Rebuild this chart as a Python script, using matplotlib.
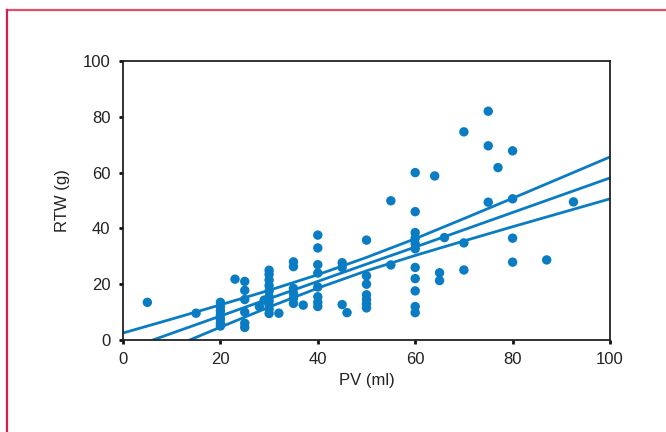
import numpy as np
import matplotlib
matplotlib.use("Agg")
import matplotlib.pyplot as plt
from matplotlib.lines import Line2D

plt.rcParams['font.family'] = ['Liberation Sans', 'DejaVu Sans']

# scatter data
pv = ([5, 15] + [20] * 7 + [23] + [25] * 6 + [28, 29] + [30] * 10 + [32]
      + [35] * 6 + [37] + [40] * 8 + [45, 45, 45, 46] + [50] * 7 + [55, 55]
      + [60] * 11 + [64, 65, 65, 66, 70, 70, 70, 75, 75, 75, 77]
      + [80] * 4 + [87, 92.5])
rtw = ([13.5, 9.6]
       + [13.5, 12, 10.5, 9, 7.5, 6, 5]
       + [21.8]
       + [21, 17.8, 14.5, 10, 6, 4.5]
       + [12, 14.3]
       + [25, 23.5, 21.5, 19.5, 17.5, 15.5, 14, 12.5, 11, 9.5]
       + [9.6]
       + [28, 26.3, 18.5, 16.7, 14.9, 13.1]
       + [12.5]
       + [37.6, 33, 27, 24, 19, 15.5, 13.5, 12]
       + [27.7, 26, 12.7, 9.8]
       + [35.8, 23, 20, 16.2, 14.5, 13, 11.5]
       + [49.9, 26.9]
       + [60, 46, 38.5, 36.5, 34.5, 32.7, 26, 22, 17.6, 12, 9.8]
       + [58.8, 24.1, 21.3, 36.7, 74.6, 34.8, 25.1, 82, 69.6, 49.4, 61.8]
       + [67.8, 50.6, 36.5, 27.9]
       + [28.7, 49.5])

# regression line with confidence band
band_x = [0, 10, 20, 30, 40, 50, 60, 70, 80, 90, 100]
fit_mid = [-3.8, 2.4, 8.6, 14.8, 21.0, 27.2, 33.3, 39.5, 45.7, 51.9, 58.1]
fit_hi = [2.5, 7.5, 12.6, 17.8, 23.4, 29.6, 36.3, 43.5, 50.8, 58.2, 65.6]
fit_lo = [-10.1, -2.7, 4.6, 11.8, 18.6, 24.8, 30.3, 35.5, 40.6, 45.6, 50.6]

blue = '#0a7cc4'

fig = plt.figure(figsize=(6.66, 4.32), dpi=100)
ax = fig.add_axes([123 / 666, 1 - 340 / 432, 487 / 666, 279 / 432])

ax.scatter(pv, rtw, s=46, color=blue, edgecolors='none', zorder=3)
for yy in (fit_hi, fit_mid, fit_lo):
    ax.plot(band_x, yy, color=blue, lw=2, zorder=2)

ax.set_xlim(0, 100)
ax.set_ylim(0, 100)
ax.set_xticks(range(0, 101, 20))
ax.set_yticks(range(0, 101, 20))
ax.tick_params(direction='out', length=3, width=2, labelsize=12,
               color='#111111', labelcolor='#222222', pad=6)
for sp in ax.spines.values():
    sp.set_linewidth(1.3)
    sp.set_color('#222222')

ax.set_xlabel('PV (ml)', fontsize=12, labelpad=4, color='#222222')
ax.set_ylabel('RTW (g)', fontsize=12, labelpad=9, color='#222222')

# pink frame around the figure (top and left edges visible)
pink = '#e0506e'
fig.add_artist(Line2D([7 / 666, 1.0], [1 - 10 / 432, 1 - 10 / 432],
                      color=pink, lw=1.6, transform=fig.transFigure))
fig.add_artist(Line2D([7 / 666, 7 / 666], [0.0, 1 - 10 / 432],
                      color='#d81e50', lw=1.6, transform=fig.transFigure))

fig.savefig('out.png', dpi=100)
